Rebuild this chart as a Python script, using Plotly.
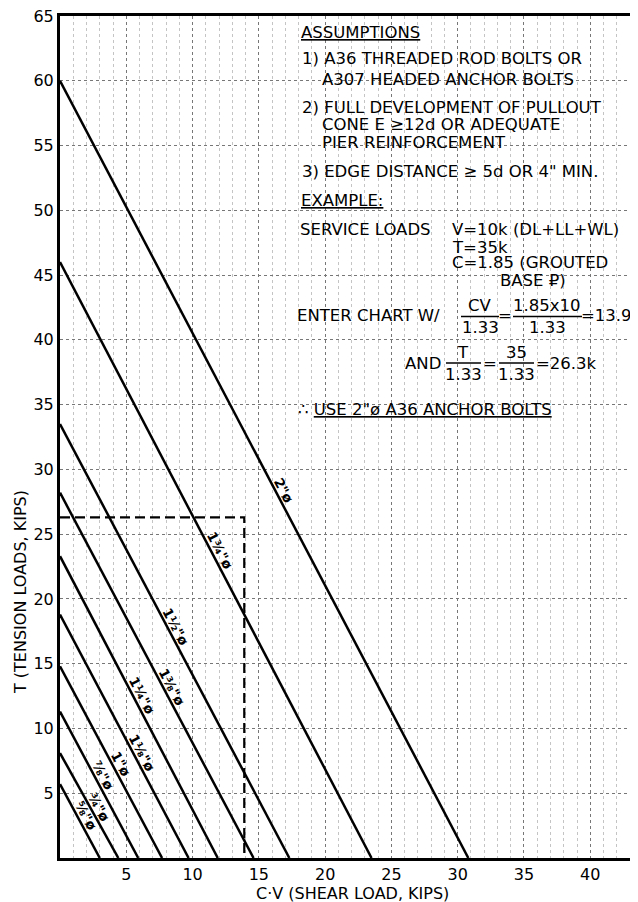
import math
import plotly.graph_objects as go

# ---------------- data ----------------
bolt_sizes = ['⅝"ø', '¾"ø', '⅞"ø', '1"ø', '1⅛"ø', '1¼"ø', '1⅜"ø', '1½"ø', '1¾"ø', '2"ø']
tension_allow = [5.7, 8.1, 11.3, 14.8, 18.8, 23.3, 28.2, 33.5, 46.0, 60.0]   # T at C·V = 0
shear_allow = [3.0, 4.4, 5.9, 7.7, 9.7, 11.9, 14.6, 17.3, 23.5, 30.8]       # C·V at T = 0
example_cv = 13.9
example_t = 26.3
x_ticks = [5, 10, 15, 20, 25, 30, 35, 40]
y_ticks = [5, 10, 15, 20, 25, 30, 35, 40, 45, 50, 55, 60, 65]

# label placement (tension value along each line where its label sits)
label_at_t = [3.15, 3.8, 6.25, 7.1, 7.95, 12.4, 13.05, 17.7, 23.6, 28.2]

# ---------------- layout constants ----------------
OFF = 8                      # page body margin in the browser
W, H = 638 - OFF, 902 - OFF
ML, MR, MT, MB = 60 - OFF, 0, 16 - OFF, 44
PW, PH = W - ML - MR, H - MT - MB
X_MAX, Y_MAX = 43.6, 65
FONT = "DejaVu Sans"
TS = 16.5

def paper(xpx, ypx):
    # xpx, ypx are window pixel positions
    return (xpx - OFF - ML) / PW, (H + OFF - MB - ypx) / PH

fig = go.Figure()

for name, t0, v0 in zip(bolt_sizes, tension_allow, shear_allow):
    fig.add_trace(go.Scatter(x=[0, v0], y=[t0, 0], mode="lines",
                             line=dict(color="black", width=2.5),
                             name=name, showlegend=False, hoverinfo="skip"))

fig.add_trace(go.Scatter(x=[0, example_cv, example_cv], y=[example_t, example_t, 0],
                         mode="lines", line=dict(color="black", width=2.2, dash="10px,5px"),
                         showlegend=False, hoverinfo="skip"))

annotations = []

# line labels
sx = PW / X_MAX
sy = PH / Y_MAX
for name, t0, v0, tl in zip(bolt_sizes, tension_allow, shear_allow, label_at_t):
    xv = v0 * (1 - tl / t0)
    ang = math.degrees(math.atan((t0 * sy) / (v0 * sx)))
    annotations.append(dict(x=xv, y=tl, xref="x", yref="y", text="<b>" + name + "</b>",
                            showarrow=False, textangle=ang, xshift=8, yshift=2,
                            font=dict(family=FONT, size=13.5, color="black")))

def txt(text, xpx, ypx, anchor="left", size=TS, angle=0):
    xp, yp = paper(xpx, ypx)
    annotations.append(dict(x=xp, y=yp, xref="paper", yref="paper", text=text,
                            showarrow=False, xanchor=anchor, yanchor="middle",
                            textangle=angle, borderpad=0,
                            font=dict(family=FONT, size=size, color="black")))

txt("<u>ASSUMPTIONS</u>", 300, 33)
txt("1) A36 THREADED ROD BOLTS OR", 301, 58)
txt("A307 HEADED ANCHOR BOLTS", 321, 79)
txt("2) FULL DEVELOPMENT OF PULLOUT", 301, 107)
txt("CONE E ≥12d OR ADEQUATE", 321, 125)
txt("PIER REINFORCEMENT", 321, 142)
txt("3) EDGE DISTANCE ≥ 5d OR 4\" MIN.", 301, 172)
txt("<u>EXAMPLE:</u>", 300, 201)
txt("SERVICE LOADS", 299, 230)
txt("V=10k (DL+LL+WL)", 451, 230)
txt("T=35k", 451, 247)
txt("C=1.85 (GROUTED", 451, 263)
txt("BASE ₽)", 499, 280)
txt("ENTER CHART W/", 296, 316)
txt("CV", 480, 305, "center")
txt("1.33", 480, 327, "center")
txt("=", 505, 316, "center")
txt("1.85x10", 547, 305, "center")
txt("1.33", 547, 327, "center")
txt("=13.9k", 580, 316)
txt("AND", 404, 363)
txt("T", 463, 352, "center")
txt("1.33", 463, 374, "center")
txt("=", 490, 363, "center")
txt("35", 516, 352, "center")
txt("1.33", 516, 374, "center")
txt("=26.3k", 535, 363)
txt("∴ <u>USE 2\"ø A36 ANCHOR BOLTS</u>", 297, 409)

# axis titles
txt("C·V (SHEAR LOAD, KIPS)", 352, 893, "center", size=16)
txt("T (TENSION LOADS, KIPS)", 20, 592, "center", size=16, angle=-90)

shapes = []
def bar(x0, x1, ypx):
    a, b = paper(x0, ypx)
    c, _ = paper(x1, ypx)
    shapes.append(dict(type="line", xref="paper", yref="paper", x0=a, x1=c, y0=b, y1=b,
                       line=dict(color="black", width=1.5)))

bar(461, 499, 316.5)
bar(513, 582, 316.5)
bar(446, 481, 363)
bar(499, 534, 363)

fig.update_layout(
    width=W, height=H,
    margin=dict(l=ML, r=MR, t=MT, b=MB, pad=0, autoexpand=False),
    paper_bgcolor="white", plot_bgcolor="white",
    annotations=annotations, shapes=shapes,
    font=dict(family=FONT, size=16, color="black"),
)

fig.update_xaxes(range=[0, X_MAX], tickvals=x_ticks, ticks="", showline=True,
                 linecolor="black", linewidth=3, mirror=True, zeroline=False,
                 automargin=False, ticklabeloverflow="allow",
                 showgrid=True, gridcolor="#777", griddash="dot", gridwidth=1,
                 tickfont=dict(family=FONT, size=16, color="black"),
                 minor=dict(dtick=1, tick0=0, showgrid=True, gridcolor="#c4c4c4",
                            griddash="dot", gridwidth=1, ticks=""))
fig.update_yaxes(range=[0, Y_MAX], tickvals=y_ticks, ticks="", showline=True,
                 linecolor="black", linewidth=3, zeroline=False,
                 automargin=False, ticklabeloverflow="allow",
                 showgrid=True, gridcolor="#777", griddash="dot", gridwidth=1,
                 tickfont=dict(family=FONT, size=16, color="black"))

fig.write_html("out.html")
